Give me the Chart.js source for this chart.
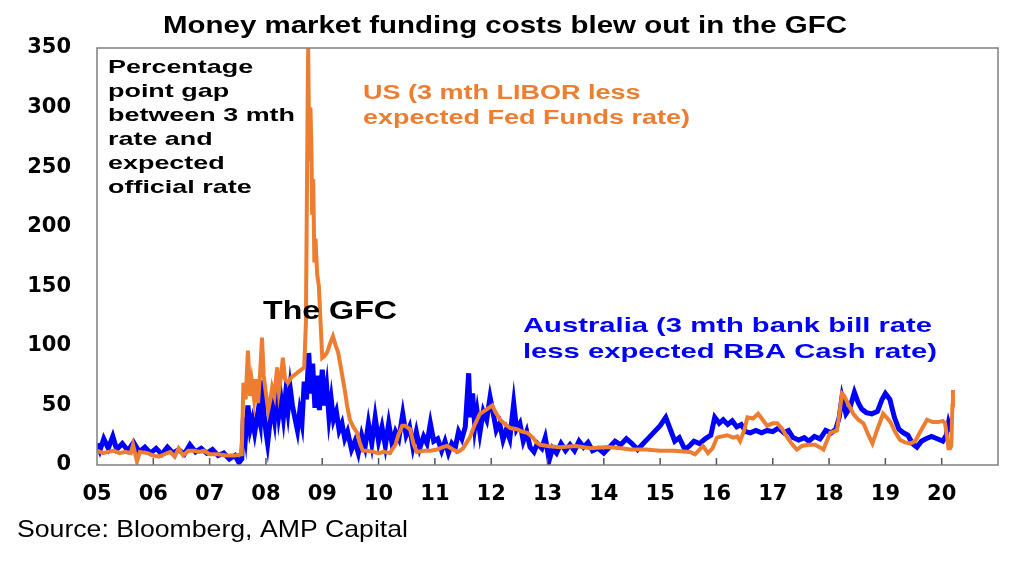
<!DOCTYPE html>
<html>
<head>
<meta charset="utf-8">
<script src="https://cdn.jsdelivr.net/npm/chart.js@4.4.1/dist/chart.umd.min.js"></script>
<style>
  html, body { margin: 0; padding: 0; background: #fff; }
  #wrap { width: 1024px; height: 568px; position: relative; }
</style>
</head>
<body>
<div id="wrap"><canvas id="gapChart" width="1024" height="568"></canvas></div>
<script>
// x tick labels (year boundaries 2005..2020)
const yearLabels = ['05', '06', '07', '08', '09', '10', '11', '12', '13', '14', '15', '16', '17', '18', '19', '20'];
const yTicks = [0, 50, 100, 150, 200, 250, 300, 350];

// US: 3 mth LIBOR less expected Fed Funds rate, [decimal year, bp]
const usSpread = [
    [2005.00, 12], [2005.10, 10], [2005.20, 11], [2005.30, 12], [2005.40, 10], [2005.50, 11], [2005.60, 10],
    [2005.64, 17], [2005.71, 3], [2005.76, 11], [2005.90, 10], [2006.00, 8], [2006.10, 7], [2006.20, 9],
    [2006.30, 11], [2006.38, 7], [2006.45, 14], [2006.53, 8], [2006.62, 12], [2006.72, 12], [2006.82, 11],
    [2006.90, 12], [2007.00, 9], [2007.15, 9], [2007.30, 8], [2007.45, 8], [2007.57, 9],
    [2007.60, 69], [2007.64, 55], [2007.68, 96], [2007.72, 58], [2007.75, 70], [2007.79, 55], [2007.82, 72],
    [2007.86, 52], [2007.90, 80], [2007.93, 107], [2007.96, 75], [2008.00, 60], [2008.04, 46], [2008.08, 55],
    [2008.11, 65], [2008.15, 58], [2008.20, 82], [2008.23, 62], [2008.27, 75], [2008.30, 90], [2008.34, 72],
    [2008.39, 69], [2008.46, 74], [2008.52, 76], [2008.57, 78], [2008.63, 80], [2008.68, 82], [2008.71, 120],
    [2008.74, 300], [2008.75, 350], [2008.77, 255], [2008.79, 300], [2008.81, 260], [2008.82, 210],
    [2008.84, 240], [2008.86, 170], [2008.88, 190], [2008.91, 160], [2008.94, 150], [2008.97, 120],
    [2009.00, 90], [2009.05, 92], [2009.09, 95], [2009.14, 102], [2009.19, 108], [2009.24, 100], [2009.28, 95],
    [2009.33, 82], [2009.37, 71], [2009.41, 60], [2009.44, 50], [2009.49, 38], [2009.55, 32], [2009.62, 27],
    [2009.67, 18], [2009.72, 12], [2009.80, 12], [2009.90, 11], [2010.00, 10], [2010.10, 11], [2010.20, 10],
    [2010.30, 17], [2010.35, 25], [2010.42, 33], [2010.47, 33], [2010.56, 30], [2010.62, 18], [2010.68, 11],
    [2010.80, 12], [2010.92, 12], [2011.04, 13], [2011.14, 15], [2011.22, 16], [2011.32, 13], [2011.41, 11],
    [2011.50, 14], [2011.62, 23], [2011.70, 33], [2011.80, 43], [2011.90, 46], [2012.02, 50], [2012.08, 44],
    [2012.16, 38], [2012.25, 34], [2012.34, 31], [2012.45, 30], [2012.55, 28], [2012.64, 27], [2012.74, 23],
    [2012.80, 19], [2012.87, 17], [2013.00, 16], [2013.22, 15], [2013.50, 16], [2013.76, 14], [2014.06, 15],
    [2014.30, 14], [2014.47, 13], [2014.75, 13], [2015.00, 12], [2015.25, 12], [2015.53, 11], [2015.62, 9],
    [2015.70, 13], [2015.76, 16], [2015.85, 10], [2015.93, 14], [2016.01, 23], [2016.10, 24], [2016.19, 25],
    [2016.30, 23], [2016.37, 24], [2016.42, 20], [2016.50, 30], [2016.55, 40], [2016.65, 39], [2016.74, 43],
    [2016.82, 38], [2016.90, 33], [2017.00, 35], [2017.08, 35], [2017.17, 30], [2017.26, 23], [2017.35, 17],
    [2017.43, 13], [2017.52, 16], [2017.63, 17], [2017.75, 17], [2017.83, 15], [2017.90, 13], [2018.02, 27],
    [2018.14, 29], [2018.19, 45], [2018.23, 60], [2018.27, 58], [2018.32, 53], [2018.43, 43], [2018.52, 38],
    [2018.61, 35], [2018.70, 25], [2018.77, 18], [2018.85, 29], [2018.96, 43], [2019.02, 40], [2019.09, 36],
    [2019.17, 28], [2019.26, 21], [2019.35, 19], [2019.44, 18], [2019.53, 20], [2019.62, 28], [2019.68, 33],
    [2019.74, 38], [2019.84, 36], [2019.94, 36], [2020.02, 37], [2020.06, 35], [2020.10, 22], [2020.12, 14],
    [2020.15, 14], [2020.17, 16], [2020.19, 50], [2020.20, 63]
];

// Australia: 3 mth bank bill rate less expected RBA cash rate, [decimal year, bp]
const auSpread = [
    [2005.00, 18], [2005.05, 12], [2005.12, 22], [2005.20, 14], [2005.28, 24], [2005.35, 13], [2005.45, 18],
    [2005.55, 12], [2005.65, 19], [2005.75, 11], [2005.85, 15], [2005.95, 10], [2006.05, 14], [2006.15, 9],
    [2006.25, 15], [2006.35, 10], [2006.45, 13], [2006.55, 9], [2006.65, 17], [2006.75, 11], [2006.85, 14],
    [2006.95, 10], [2007.05, 13], [2007.15, 8], [2007.25, 10], [2007.35, 5], [2007.45, 8], [2007.52, 2],
    [2007.57, 5], [2007.60, 40], [2007.64, 25], [2007.68, 50], [2007.72, 30], [2007.76, 38], [2007.80, 27],
    [2007.86, 45], [2007.90, 35], [2007.93, 71], [2007.97, 40], [2008.00, 28], [2008.03, 18], [2008.07, 35],
    [2008.11, 50], [2008.15, 38], [2008.19, 65], [2008.23, 42], [2008.27, 55], [2008.31, 40], [2008.35, 60],
    [2008.39, 45], [2008.43, 65], [2008.47, 50], [2008.52, 38], [2008.56, 29], [2008.60, 45], [2008.64, 35],
    [2008.68, 70], [2008.72, 55], [2008.76, 94], [2008.80, 60], [2008.83, 85], [2008.87, 48], [2008.91, 75],
    [2008.95, 46], [2009.00, 80], [2009.04, 50], [2009.08, 65], [2009.12, 40], [2009.16, 55], [2009.20, 38],
    [2009.25, 45], [2009.30, 29], [2009.35, 35], [2009.40, 22], [2009.45, 28], [2009.52, 13], [2009.58, 20],
    [2009.64, 10], [2009.70, 25], [2009.76, 15], [2009.82, 35], [2009.88, 18], [2009.94, 40], [2010.00, 20],
    [2010.06, 32], [2010.12, 16], [2010.18, 35], [2010.24, 18], [2010.30, 28], [2010.36, 22], [2010.43, 43],
    [2010.49, 25], [2010.55, 32], [2010.61, 15], [2010.67, 28], [2010.73, 14], [2010.80, 24], [2010.86, 18],
    [2010.92, 35], [2010.98, 20], [2011.05, 22], [2011.12, 12], [2011.18, 20], [2011.24, 10], [2011.30, 18],
    [2011.36, 14], [2011.42, 28], [2011.48, 22], [2011.54, 32], [2011.60, 77], [2011.63, 40], [2011.67, 60],
    [2011.71, 32], [2011.75, 45], [2011.80, 27], [2011.86, 45], [2011.92, 38], [2011.98, 57], [2012.03, 45],
    [2012.09, 29], [2012.15, 35], [2012.21, 21], [2012.27, 30], [2012.33, 22], [2012.40, 52], [2012.45, 30],
    [2012.51, 35], [2012.57, 20], [2012.63, 28], [2012.69, 15], [2012.76, 11], [2012.82, 18], [2012.90, 14],
    [2012.96, 23], [2013.03, 4], [2013.09, 14], [2013.16, 10], [2013.24, 18], [2013.32, 12], [2013.40, 17],
    [2013.48, 12], [2013.56, 20], [2013.64, 15], [2013.72, 19], [2013.80, 12], [2013.90, 14], [2014.00, 10],
    [2014.10, 15], [2014.20, 20], [2014.30, 17], [2014.40, 22], [2014.50, 18], [2014.60, 13], [2014.70, 18],
    [2014.80, 23], [2014.90, 28], [2015.00, 33], [2015.10, 40], [2015.18, 30], [2015.26, 20], [2015.34, 23],
    [2015.44, 13], [2015.52, 16], [2015.60, 20], [2015.70, 18], [2015.80, 22], [2015.90, 25], [2015.97, 40],
    [2016.05, 35], [2016.12, 38], [2016.20, 34], [2016.28, 37], [2016.36, 32], [2016.44, 34], [2016.52, 28],
    [2016.60, 27], [2016.70, 29], [2016.80, 27], [2016.90, 29], [2017.00, 28], [2017.10, 31], [2017.20, 27],
    [2017.28, 29], [2017.36, 23], [2017.46, 21], [2017.56, 23], [2017.64, 20], [2017.74, 24], [2017.84, 22],
    [2017.94, 29], [2018.04, 27], [2018.12, 30], [2018.18, 40], [2018.23, 57], [2018.30, 43], [2018.37, 48],
    [2018.45, 61], [2018.52, 52], [2018.58, 47], [2018.66, 44], [2018.76, 43], [2018.86, 45], [2018.94, 55],
    [2019.00, 60], [2019.08, 55], [2019.16, 40], [2019.24, 30], [2019.32, 27], [2019.40, 25], [2019.48, 18],
    [2019.56, 15], [2019.64, 20], [2019.72, 22], [2019.82, 24], [2019.92, 22], [2020.02, 20], [2020.08, 25],
    [2020.12, 35], [2020.16, 28]
];

const ORANGE = '#ED7D31';
const BLUE = '#0000FF';
const FONT = '"Liberation Sans", Arial, sans-serif';

// draw a block of text, squeezed/stretched to a given width like the original slide
function drawBlock(ctx, lines, x, y, gap, size, color, width, weight = 'bold') {
    ctx.save();
    ctx.font = `${weight} ${size}px ${FONT}`;
    ctx.fillStyle = color;
    ctx.textAlign = 'left';
    ctx.textBaseline = 'alphabetic';
    const widest = Math.max(...lines.map(l => ctx.measureText(l).width));
    const sx = width / widest;
    lines.forEach((line, i) => {
        ctx.save();
        ctx.translate(x, y + i * gap);
        ctx.scale(sx, 1);
        ctx.fillText(line, 0, 0);
        ctx.restore();
    });
    ctx.restore();
}

const frameAndText = {
    id: 'frameAndText',
    afterDatasetsDraw(chart) {
        const { ctx, chartArea: a, scales } = chart;
        ctx.save();
        // inward tick marks on the x axis
        ctx.strokeStyle = '#555';
        ctx.lineWidth = 1.5;
        for (let yr = 2006; yr <= 2020; yr++) {
            const px = scales.x.getPixelForValue(yr);
            ctx.beginPath();
            ctx.moveTo(px, a.bottom);
            ctx.lineTo(px, a.bottom - 7);
            ctx.stroke();
        }
        // plot frame
        ctx.strokeStyle = '#7f7f7f';
        ctx.lineWidth = 1.5;
        ctx.strokeRect(a.left, a.top, a.right - a.left, a.bottom - a.top);
        ctx.restore();

        drawBlock(ctx, ['Money market funding costs blew out in the GFC'], 163, 33, 0, 24, '#000', 684);
        drawBlock(ctx, ['Percentage', 'point gap', 'between 3 mth', 'rate and', 'expected', 'official rate'],
            108, 73, 24, 19, '#000', 187);
        drawBlock(ctx, ['US (3 mth LIBOR less', 'expected Fed Funds rate)'], 363, 99, 25, 20, ORANGE, 327);
        drawBlock(ctx, ['The GFC'], 263, 319, 0, 25, '#000', 134);
        drawBlock(ctx, ['Australia (3 mth bank bill rate', 'less expected RBA Cash rate)'], 523, 332, 26, 21, BLUE, 414);
        drawBlock(ctx, ['Source: Bloomberg, AMP Capital'], 17, 537, 0, 24, '#000', 391, 'normal');
    }
};

const ctx = document.getElementById('gapChart').getContext('2d');
const gapChart = new Chart(ctx, {
    type: 'line',
    data: {
        datasets: [{
            label: 'US (3 mth LIBOR less expected Fed Funds rate)',
            data: usSpread.map(([x, y]) => ({ x, y })),
            borderColor: ORANGE,
            borderWidth: 4,
            pointRadius: 0,
            tension: 0
        }, {
            label: 'Australia (3 mth bank bill rate less expected RBA Cash rate)',
            data: auSpread.map(([x, y]) => ({ x, y })),
            borderColor: BLUE,
            borderWidth: 5,
            pointRadius: 0,
            tension: 0
        }]
    },
    options: {
        responsive: false,
        animation: false,
        layout: { padding: { top: 48, right: 26, bottom: 0, left: 0 } },
        plugins: {
            legend: { display: false },
            title: { display: false },
            tooltip: { enabled: false }
        },
        scales: {
            x: {
                type: 'linear',
                min: 2005,
                max: 2021,
                grid: { display: false, drawTicks: false },
                border: { display: false },
                afterFit: s => { s.height = 103; },
                ticks: {
                    stepSize: 1,
                    autoSkip: false,
                    maxRotation: 0,
                    padding: 17,
                    color: '#000',
                    font: { family: '"DejaVu Sans", sans-serif', weight: 'bold', size: 21 },
                    callback: v => yearLabels[v - 2005] || ''
                }
            },
            y: {
                min: 0,
                max: 350,
                grid: { display: false, drawTicks: false },
                border: { display: false },
                afterFit: s => { s.width = 97; },
                afterBuildTicks: s => { s.ticks = yTicks.map(v => ({ value: v })); },
                ticks: {
                    padding: 26,
                    color: '#000',
                    font: { family: '"DejaVu Sans", sans-serif', weight: 'bold', size: 21 }
                }
            }
        }
    },
    plugins: [frameAndText]
});
</script>
</body>
</html>
